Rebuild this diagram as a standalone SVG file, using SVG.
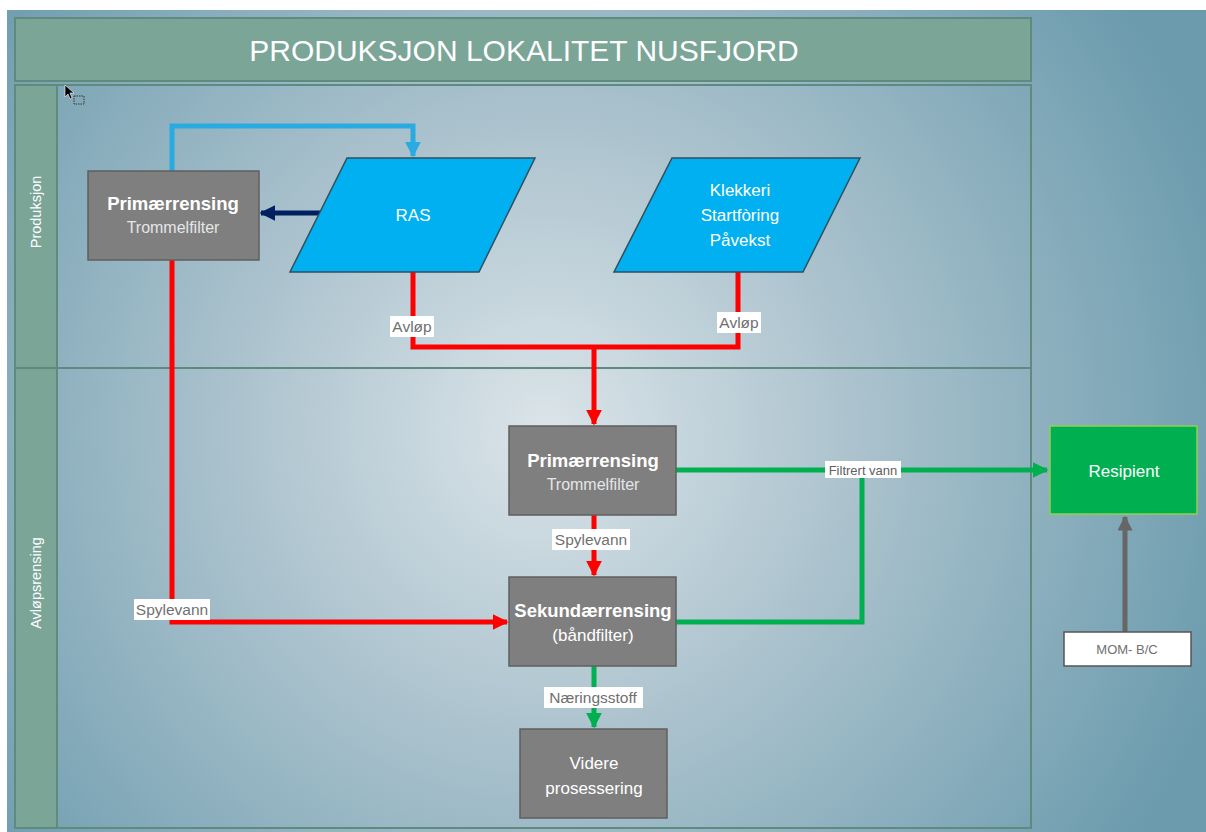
<svg xmlns="http://www.w3.org/2000/svg" width="1206" height="832" viewBox="0 0 1206 832">
<defs>
<radialGradient id="bg" gradientUnits="userSpaceOnUse" cx="545" cy="430" r="720">
<stop offset="0" stop-color="#dbe4e9"/>
<stop offset="0.45" stop-color="#a9c1cc"/>
<stop offset="1" stop-color="#6b9bad"/>
</radialGradient>
<marker id="aRed" viewBox="0 0 10 10" refX="9" refY="5" markerWidth="3.2" markerHeight="3.2" orient="auto" markerUnits="strokeWidth"><path d="M0,0 L10,5 L0,10 z" fill="#ff0000"/></marker>
<marker id="aGreen" viewBox="0 0 10 10" refX="9" refY="5" markerWidth="3.2" markerHeight="3.2" orient="auto" markerUnits="strokeWidth"><path d="M0,0 L10,5 L0,10 z" fill="#00b050"/></marker>
<marker id="aBlue" viewBox="0 0 10 10" refX="9" refY="5" markerWidth="3.2" markerHeight="3.2" orient="auto" markerUnits="strokeWidth"><path d="M0,0 L10,5 L0,10 z" fill="#29abe2"/></marker>
<marker id="aNavy" viewBox="0 0 10 10" refX="9" refY="5" markerWidth="3.2" markerHeight="3.2" orient="auto" markerUnits="strokeWidth"><path d="M0,0 L10,5 L0,10 z" fill="#002060"/></marker>
<marker id="aGray" viewBox="0 0 10 10" refX="9" refY="5" markerWidth="3" markerHeight="3" orient="auto" markerUnits="strokeWidth"><path d="M0,0 L10,5 L0,10 z" fill="#666666"/></marker>
</defs>
<style>
text{font-family:"Liberation Sans",Arial,sans-serif}
.box{fill:#7f7f7f;stroke:#5f5f5f;stroke-width:1.5}
.para{fill:#00b0f0;stroke:#2f4f5f;stroke-width:1.5}
.bold{font-weight:bold;font-size:18.5px;fill:#ffffff}
.sub{font-size:16px;fill:#e6e6e6}
.wt{font-size:17px;fill:#ffffff}
.lane{fill:none;stroke:#5f8a7e;stroke-width:2}
.hdr{fill:#7aa597;stroke:#5f8a7e;stroke-width:2}
.red{fill:none;stroke:#ff0000;stroke-width:5}
.grn{fill:none;stroke:#00b050;stroke-width:5}
.lbl{fill:#ffffff}
.lt{font-size:15.5px;fill:#707070}
</style>
<rect x="7" y="10" width="1199" height="822" fill="url(#bg)"/>
<g id="frame">
<rect class="hdr" x="15" y="18" width="1016" height="63"/>
<rect class="lane" x="15" y="85" width="1016" height="743"/>
<rect class="hdr" x="15" y="85" width="42" height="743"/>
<line class="lane" x1="15" y1="368" x2="1031" y2="368"/>
<text x="524" y="61" font-size="30" fill="#ffffff" text-anchor="middle">PRODUKSJON LOKALITET NUSFJORD</text>
<text transform="translate(41,212) rotate(-90)" font-size="14.5" fill="#ffffff" text-anchor="middle">Produksjon</text>
<text transform="translate(41,583) rotate(-90)" font-size="14.5" fill="#ffffff" text-anchor="middle">Avløpsrensing</text>
</g>
<g id="cursor">
<path d="M65,85 L65,97 L68,94 L70,99 L72,98 L70,93 L74,93 z" fill="#000000" stroke="#ffffff" stroke-width="0.6"/>
<rect x="74" y="96" width="10" height="8" fill="none" stroke="#333333" stroke-width="1" stroke-dasharray="1.5,1"/>
</g>
<g id="connectors">
<path d="M172,171 L172,126 L413,126 L413,156" fill="none" stroke="#29abe2" stroke-width="5" marker-end="url(#aBlue)"/>
<path d="M320,213 L261,213" fill="none" stroke="#002060" stroke-width="5" marker-end="url(#aNavy)"/>
<path class="red" d="M413,272 L413,347 L738,347 L738,272"/>
<path class="red" d="M594,347 L594,424" marker-end="url(#aRed)"/>
<path class="red" d="M172,260 L172,622 L507,622" marker-end="url(#aRed)"/>
<path class="red" d="M594,515 L594,575" marker-end="url(#aRed)"/>
<path class="grn" d="M676,470 L1047,470" marker-end="url(#aGreen)"/>
<path class="grn" d="M676,622 L862,622 L862,470"/>
<path class="grn" d="M594,666 L594,727" marker-end="url(#aGreen)"/>
<path d="M1125,632 L1125,517" fill="none" stroke="#666666" stroke-width="5" marker-end="url(#aGray)"/>
<rect class="lbl" x="390" y="316" width="44" height="21"/>
<text class="lt" x="412" y="332" text-anchor="middle">Avløp</text>
<rect class="lbl" x="717" y="312" width="44" height="21"/>
<text class="lt" x="739" y="328" text-anchor="middle">Avløp</text>
<rect class="lbl" x="134" y="599" width="76" height="21"/>
<text class="lt" x="172" y="615" text-anchor="middle">Spylevann</text>
<rect class="lbl" x="552" y="529" width="78" height="21"/>
<text class="lt" x="591" y="545" text-anchor="middle">Spylevann</text>
<rect class="lbl" x="825" y="461" width="76" height="17"/>
<text x="863" y="474.5" font-size="13" fill="#606060" text-anchor="middle">Filtrert vann</text>
<rect class="lbl" x="544" y="687" width="99" height="21"/>
<text class="lt" x="593" y="703" text-anchor="middle">Næringsstoff</text>
</g>
<g id="prim1">
<rect class="box" x="88" y="171" width="171" height="89"/>
<text class="bold" x="173" y="210" text-anchor="middle">Primærrensing</text>
<text class="sub" x="173" y="233" text-anchor="middle">Trommelfilter</text>
</g>
<g id="ras">
<polygon class="para" points="347,158 535,158 479,272 290,272"/>
<text class="wt" x="413" y="221" text-anchor="middle" font-size="16">RAS</text>
</g>
<g id="klekkeri">
<polygon class="para" points="672,158 860,158 803,272 614,272"/>
<text class="wt" x="740" y="196" text-anchor="middle">Klekkeri</text>
<text class="wt" x="740" y="221" text-anchor="middle">Startfòring</text>
<text class="wt" x="740" y="246" text-anchor="middle">Påvekst</text>
</g>
<g id="prim2">
<rect class="box" x="509" y="426" width="167" height="89"/>
<text class="bold" x="593" y="467" text-anchor="middle">Primærrensing</text>
<text class="sub" x="593" y="490" text-anchor="middle">Trommelfilter</text>
</g>
<g id="sekundaer">
<rect class="box" x="509" y="577" width="167" height="89"/>
<text class="bold" x="593" y="617" text-anchor="middle">Sekundærrensing</text>
<text class="wt" x="593" y="641" text-anchor="middle" font-size="18.5">(båndfilter)</text>
</g>
<g id="videre">
<rect class="box" x="520" y="729" width="147" height="89"/>
<text class="wt" x="594" y="769" text-anchor="middle" font-size="19">Videre</text>
<text class="wt" x="594" y="794" text-anchor="middle" font-size="19">prosessering</text>
</g>
<g id="resipient">
<rect x="1050" y="426" width="147" height="88" fill="#00b050" stroke="#92d050" stroke-width="1.5"/>
<text class="wt" x="1124" y="477" text-anchor="middle" font-size="19">Resipient</text>
</g>
<g id="mom">
<rect x="1064" y="632" width="127" height="34" fill="#ffffff" stroke="#555555" stroke-width="1.5"/>
<text x="1127" y="654" font-size="13" fill="#707070" text-anchor="middle">MOM- B/C</text>
</g>
</svg>
